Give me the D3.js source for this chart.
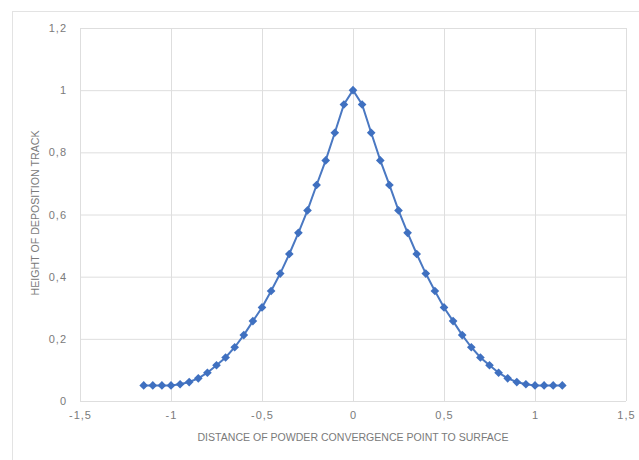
<!DOCTYPE html>
<html>
<head>
<meta charset="utf-8">
<script src="https://cdn.jsdelivr.net/npm/d3@7"></script>
<style>
  body { margin: 0; background: #fff; }
  #chart-area text { font-family: "Liberation Sans Narrow", "Liberation Sans", Arial, sans-serif; fill: #7a7a7a; }
</style>
</head>
<body>
<div id="chart-area"></div>
<script>
// distance of powder convergence point to surface
var xValues = [-1.15, -1.1, -1.05, -1, -0.95, -0.9, -0.85, -0.8, -0.75, -0.7, -0.65, -0.6,
  -0.55, -0.5, -0.45, -0.4, -0.35, -0.3, -0.25, -0.2, -0.15, -0.1, -0.05, 0,
  0.05, 0.1, 0.15, 0.2, 0.25, 0.3, 0.35, 0.4, 0.45, 0.5, 0.55, 0.6, 0.65, 0.7,
  0.75, 0.8, 0.85, 0.9, 0.95, 1, 1.05, 1.1, 1.15];
// height of deposition track
var yValues = [0.05, 0.05, 0.05, 0.05, 0.054, 0.061, 0.073, 0.091, 0.115, 0.14, 0.173, 0.212,
  0.257, 0.301, 0.354, 0.41, 0.473, 0.541, 0.613, 0.695, 0.774, 0.863, 0.954, 1,
  0.954, 0.863, 0.774, 0.695, 0.613, 0.541, 0.473, 0.41, 0.354, 0.301, 0.257, 0.212, 0.173, 0.14,
  0.115, 0.091, 0.073, 0.061, 0.054, 0.05, 0.05, 0.05, 0.05];
var xTicks = [-1.5, -1, -0.5, 0, 0.5, 1, 1.5];
var yTicks = [0, 0.2, 0.4, 0.6, 0.8, 1, 1.2];

var data = xValues.map(function(x, i){
    return {x: x, y: yValues[i]};
});

var fmt = function(v){ return String(v).replace(".", ","); };

var margin = {left:80, right:13, top:28, bottom:59};
var width = 639 - margin.left - margin.right;
var height = 460 - margin.top - margin.bottom;

var svg = d3.select("#chart-area")
    .append("svg")
    .attr("width", 639)
    .attr("height", 460);

// outer chart frame
svg.append("rect")
    .attr("x", 12.5)
    .attr("y", 11.5)
    .attr("width", 640)
    .attr("height", 460)
    .attr("fill", "none")
    .attr("stroke", "#e3e3e3");

var g = svg.append("g")
    .attr("transform", "translate(" + margin.left + "," + margin.top + ")");

var x = d3.scaleLinear().domain([-1.5, 1.5]).range([0, width]);
var y = d3.scaleLinear().domain([0, 1.2]).range([height, 0]);

var xAxisCall = d3.axisBottom(x)
    .tickValues(xTicks)
    .tickSize(-height)
    .tickPadding(10)
    .tickFormat(fmt);
g.append("g")
    .attr("class", "xaxis")
    .attr("transform", "translate(0," + height + ")")
    .call(xAxisCall);

var yAxisCall = d3.axisLeft(y)
    .tickValues(yTicks)
    .tickSize(-width)
    .tickPadding(13)
    .tickFormat(fmt);
g.append("g")
    .attr("class", "yaxis")
    .call(yAxisCall);

g.selectAll(".domain").remove();
g.selectAll(".tick line").attr("stroke", "#dedede").attr("stroke-width", 1);
g.selectAll(".tick text").attr("font-size", "11px").style("letter-spacing", "1px");

g.append("text")
    .attr("x", width / 2)
    .attr("y", height + 40)
    .attr("font-size", "10px")
    .attr("text-anchor", "middle")
    .attr("textLength", 311)
    .attr("lengthAdjust", "spacingAndGlyphs")
    .text("DISTANCE OF POWDER CONVERGENCE POINT TO SURFACE");

g.append("text")
    .attr("x", -185)
    .attr("y", -41)
    .attr("font-size", "10px")
    .attr("text-anchor", "middle")
    .attr("textLength", 165)
    .attr("lengthAdjust", "spacingAndGlyphs")
    .attr("transform", "rotate(-90)")
    .text("HEIGHT OF DEPOSITION TRACK");

var line = d3.line()
    .x(function(d){ return x(d.x); })
    .y(function(d){ return y(d.y); });

g.append("path")
    .datum(data)
    .attr("d", line)
    .attr("fill", "none")
    .attr("stroke", "#4a78c2")
    .attr("stroke-width", 2);

g.selectAll(".marker")
    .data(data)
    .enter()
    .append("path")
    .attr("class", "marker")
    .attr("d", d3.symbol().type(d3.symbolDiamond2).size(48))
    .attr("transform", function(d){
        return "translate(" + x(d.x) + "," + y(d.y) + ")";
    })
    .attr("fill", "#3f70c0");
</script>
</body>
</html>
